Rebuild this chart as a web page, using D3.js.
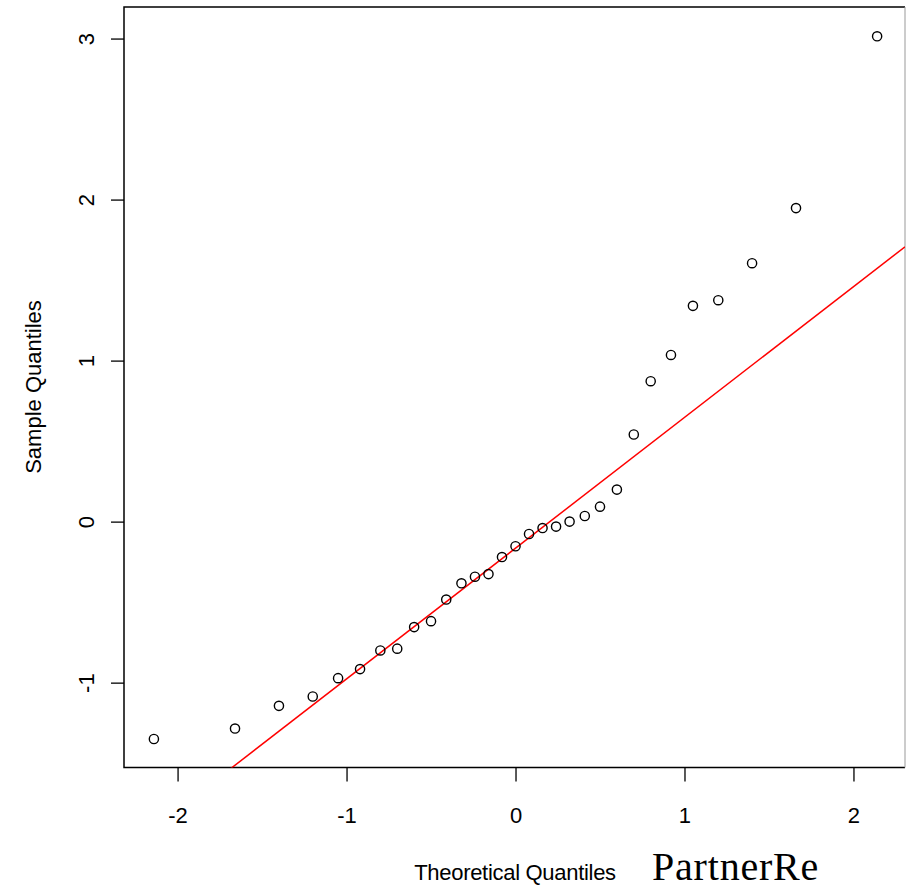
<!DOCTYPE html>
<html>
<head>
<meta charset="utf-8">
<script src="https://cdn.jsdelivr.net/npm/d3@7"></script>
<style>
  body { margin: 0; background: #fff; }
  svg text { font-family: "Liberation Sans", Arial, sans-serif; fill: #000; }
</style>
</head>
<body>
<svg id="chart" width="906" height="890"></svg>
<script>
// theoretical quantiles (x) and sample quantiles (y)
const theoretical = [-2.14, -1.66, -1.40, -1.20, -1.05, -0.92, -0.80, -0.70, -0.60, -0.50,
  -0.41, -0.32, -0.24, -0.16, -0.08, 0, 0.08, 0.16, 0.24, 0.32,
  0.41, 0.50, 0.60, 0.70, 0.80, 0.92, 1.05, 1.20, 1.40, 1.66, 2.14];
const sample = [-1.35, -1.285, -1.144, -1.086, -0.972, -0.916, -0.80, -0.789, -0.655, -0.618,
  -0.484, -0.383, -0.342, -0.326, -0.220, -0.153, -0.077, -0.040, -0.031, 0.0,
  0.035, 0.093, 0.199, 0.541, 0.872, 1.035, 1.340, 1.375, 1.605, 1.947, 3.014];
const xTicks = [-2, -1, 0, 1, 2];
const yTicks = [-1, 0, 1, 2, 3];
// reference line (qqline): intercept and slope
const lineIntercept = -0.165;
const lineSlope = 0.812;

const svg = d3.select("#chart");
const plot = {left: 124, right: 905, top: 7, bottom: 767.5};

const x = d3.scaleLinear().domain([-2.317, 2.305]).range([plot.left, plot.right]);
const y = d3.scaleLinear().domain([-1.527, 3.196]).range([plot.bottom, plot.top]);

svg.append("clipPath").attr("id", "clip")
  .append("rect")
  .attr("x", plot.left).attr("y", plot.top)
  .attr("width", plot.right - plot.left).attr("height", plot.bottom - plot.top);

// x axis (plain hyphen for negatives, like R)
const xAxis = svg.append("g")
  .attr("transform", `translate(0,${plot.bottom})`)
  .call(d3.axisBottom(x).tickValues(xTicks).tickSize(14).tickFormat(d => String(d)));
xAxis.select(".domain").remove();
xAxis.selectAll("line").attr("stroke", "#000").attr("stroke-width", 1.3);
xAxis.selectAll("text").attr("y", 55).attr("dy", 0).style("font-size", "22px");

// y axis
const yAxis = svg.append("g")
  .attr("transform", `translate(${plot.left},0)`)
  .call(d3.axisLeft(y).tickValues(yTicks).tickSize(13).tickFormat(d => String(d)));
yAxis.select(".domain").remove();
yAxis.selectAll("line").attr("stroke", "#000").attr("stroke-width", 1.3);
yAxis.selectAll("text")
  .attr("x", 0).attr("dy", 0)
  .attr("text-anchor", "middle")
  .attr("transform", "translate(-30,0) rotate(-90)")
  .style("font-size", "22px");

// plot box
svg.append("path")
  .attr("d", `M${plot.right},${plot.bottom}H${plot.left}V${plot.top}H${plot.right}`)
  .attr("fill", "none").attr("stroke", "#000").attr("stroke-width", 1.5);
svg.append("line")
  .attr("x1", plot.right).attr("x2", plot.right)
  .attr("y1", plot.top).attr("y2", plot.bottom)
  .attr("stroke", "#999").attr("stroke-width", 1);

// reference line
const xd = x.domain();
svg.append("line")
  .attr("clip-path", "url(#clip)")
  .attr("x1", x(xd[0])).attr("y1", y(lineIntercept + lineSlope * xd[0]))
  .attr("x2", x(xd[1])).attr("y2", y(lineIntercept + lineSlope * xd[1]))
  .attr("stroke", "#ff0000").attr("stroke-width", 1.5);

// points
svg.append("g")
  .selectAll("circle")
  .data(theoretical)
  .join("circle")
  .attr("cx", d => x(d))
  .attr("cy", (d, i) => y(sample[i]))
  .attr("r", 4.6)
  .attr("fill", "none")
  .attr("stroke", "#000")
  .attr("stroke-width", 1.4);

// axis titles
svg.append("text")
  .attr("x", 515).attr("y", 880)
  .attr("text-anchor", "middle")
  .style("font-size", "22px")
  .style("letter-spacing", "-0.3px")
  .text("Theoretical Quantiles");

svg.append("text")
  .attr("transform", "translate(41,387) rotate(-90)")
  .attr("text-anchor", "middle")
  .style("font-size", "22px")
  .text("Sample Quantiles");

// logo
svg.append("text")
  .attr("x", 652).attr("y", 880)
  .style("font-family", "'Liberation Serif', 'Times New Roman', serif")
  .style("font-size", "40px")
  .style("letter-spacing", "0.8px")
  .text("PartnerRe");
</script>
</body>
</html>
